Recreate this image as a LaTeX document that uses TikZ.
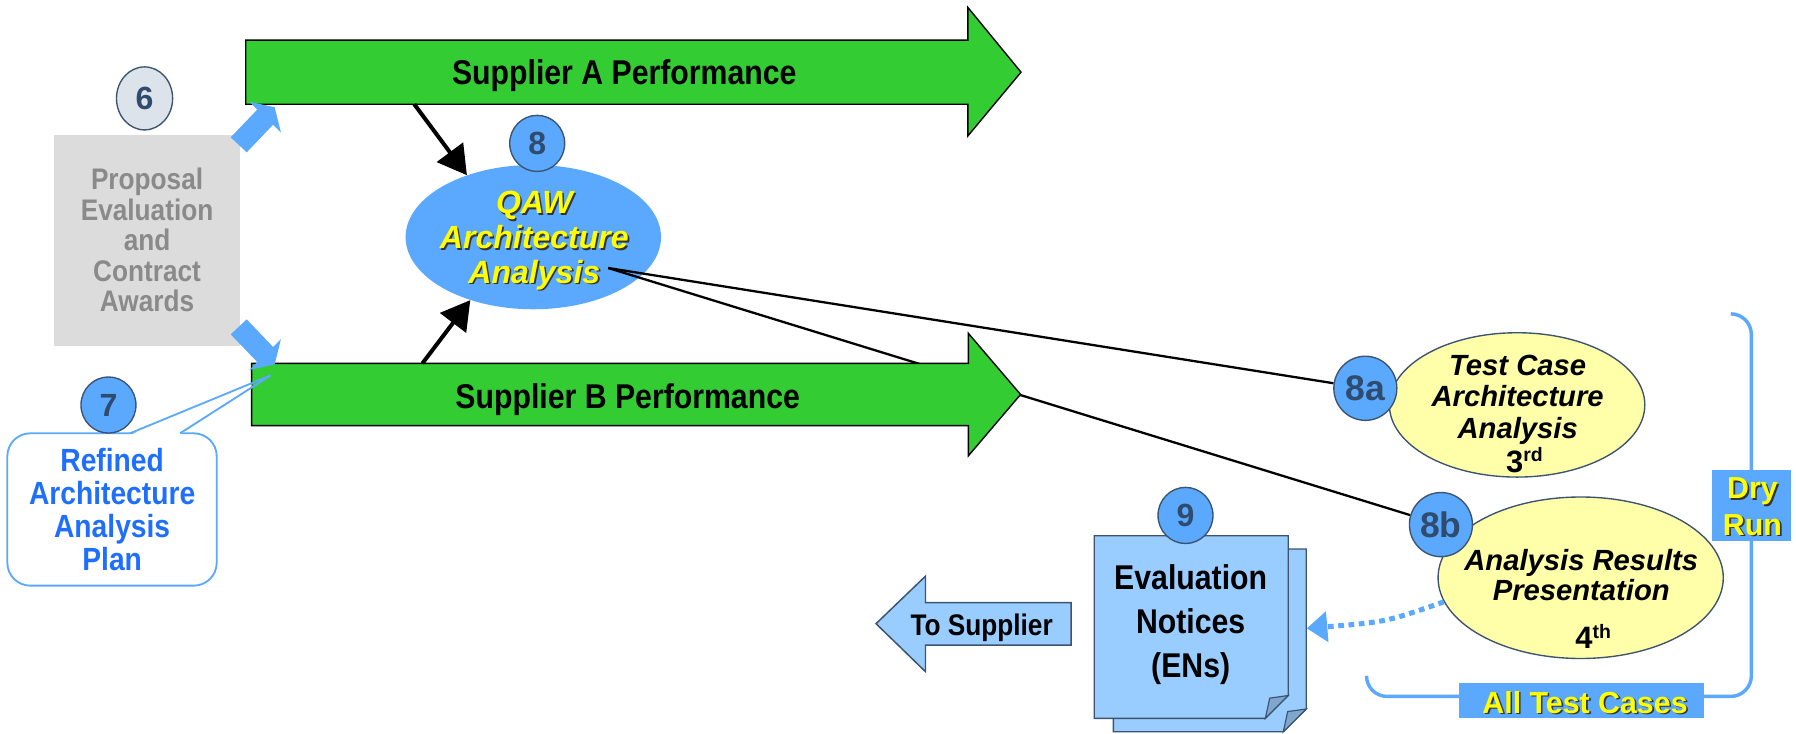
\documentclass[tikz,border=0pt]{standalone}
\usepackage{fontspec}
\setmainfont{Liberation Sans}
\newfontfamily\narrowfont{Liberation Sans}[FakeStretch=0.88]
\usetikzlibrary{arrows.meta,shapes.geometric}
\definecolor{grn}{HTML}{33CC33}
\definecolor{bl}{HTML}{5AA9FF}
\definecolor{lbl}{HTML}{99CCFF}
\definecolor{dk}{HTML}{3C5470}
\definecolor{numc}{HTML}{2F4B6E}
\definecolor{yel}{HTML}{FFFFAA}
\definecolor{gbox}{HTML}{DCDCDC}
\definecolor{gtxt}{HTML}{8A8A8A}
\definecolor{rblue}{HTML}{1F6FFF}
\definecolor{ytxt}{HTML}{FFFF00}
\definecolor{shd}{HTML}{333333}
\definecolor{foldc}{HTML}{7FA6CC}
\definecolor{csix}{HTML}{DDE3EA}
\newcommand\shl[1]{\makebox[0pt][l]{\hspace{1.4pt}\raisebox{-1.4pt}{\textcolor{shd}{#1}}}\textcolor{ytxt}{#1}}
\pgfdeclarelayer{bg}
\pgfdeclarelayer{mid}
\pgfsetlayers{bg,mid,main}
\tikzset{
  garrow/.style={fill=grn,draw=black,line width=1.2pt},
  bigtxt/.style={font={\narrowfont\bfseries\fontsize{30}{32}\selectfont},inner sep=0pt,anchor=base},
  numcirc/.style={ellipse,draw=dk,fill=bl,line width=1.2pt,inner sep=0pt,minimum width=48pt,minimum height=49pt,text=numc,font={\bfseries\fontsize{28}{28}\selectfont}},
  bignum/.style={numcirc,minimum width=55pt,minimum height=56pt,font={\bfseries\fontsize{31}{31}\selectfont}},
  blkarrow/.style={line width=3.5pt,-{Triangle[length=25pt,width=28pt]}},
  thinline/.style={line width=2pt},
  bluefill/.style={fill=bl},
  yell/.style={ellipse,fill=yel,draw=dk,line width=1.2pt,inner sep=0pt},
  itxt/.style={align=center,inner sep=0pt,font={\bfseries\itshape\fontsize{25.5}{27.5}\selectfont}},
  page/.style={fill=lbl,draw=dk,line width=1.2pt},
  foldst/.style={fill=foldc,draw=dk,line width=1pt},
  callst/.style={draw=bl,line width=1.6pt},
  bracket/.style={draw=bl,line width=3pt,rounded corners=18pt},
  ylabel/.style={align=center,inner sep=0pt,font={\bfseries\fontsize{26.5}{32}\selectfont}}
}
\begin{document}
\begin{tikzpicture}[x=1pt,y=-1pt]
\useasboundingbox (0,0) rectangle (1568,640);

% Proposal box
\fill[gbox] (47.4,117.9) rectangle (209.5,301.8);
\node[align=center,inner sep=0pt,text=gtxt,font={\narrowfont\bfseries\fontsize{26}{26.6}\selectfont}] (pe) at (128.4,209.5) {Proposal\\Evaluation\\and\\Contract\\Awards};

% Supplier arrows
\draw[garrow] (214.5,35) -- (845,35) -- (845,6.5) -- (891.4,63) -- (845,118.7) -- (845,91) -- (214.5,91) -- cycle;
\node[bigtxt] (supA) at (545,74.2) {Supplier A Performance};
\draw[garrow] (219.7,317.2) -- (845.4,317.2) -- (845.4,291) -- (891,344.4) -- (845.4,398) -- (845.4,371.6) -- (219.7,371.6) -- cycle;
\node[bigtxt] (supB) at (548,356.2) {Supplier B Performance};

% blue block arrows from proposal box
\fill[bluefill] (201.4,119.9) -- (224.6,95.7) -- (217.7,88.8) -- (239.8,93.6) -- (245.3,115.8) -- (238.4,108.9) -- (215.4,133) -- cycle;
\fill[bluefill] (201.4,291.9) -- (224.6,316.1) -- (217.7,323) -- (239.8,318.2) -- (245.3,296) -- (238.4,302.9) -- (215.4,278.8) -- cycle;

% callout
\draw[callst,fill=white,rounded corners=20pt] (6.4,378.3) rectangle (189.2,511.3);
\begin{scope}
\clip (0,300) rectangle (219.7,400);
\fill[white] (114,379.6) -- (236.3,327.7) -- (156.6,379.6) -- cycle;
\end{scope}
\draw[callst,line join=miter] (113.5,378.3) -- (236.3,327.7) -- (157.2,378.3);
\node[align=center,inner sep=0pt,text=rblue,font={\narrowfont\bfseries\fontsize{28}{29}\selectfont}] (rap) at (97.9,444.9) {Refined\\Architecture\\Analysis\\Plan};

\node[numcirc,fill=csix,minimum width=49pt,minimum height=55pt] (n6) at (126.2,85.9) {6};
\node[numcirc] (n7) at (94.7,353.6) {7};

% QAW
\begin{pgfonlayer}{bg}
\node[ellipse,fill=bl,inner sep=0pt,minimum width=223pt,minimum height=126pt] (qaw) at (465.6,207) {};
\end{pgfonlayer}
\node[align=center,inner sep=0pt,font={\bfseries\itshape\fontsize{28}{30.5}\selectfont}] (qawtxt) at (466.5,210.7) {\shl{QAW}\\\shl{Architecture}\\\shl{Analysis}};
\node[numcirc] (n8) at (469,125.2) {8};
\coordinate (qawout) at (531,234);
\coordinate (supAb) at (361.7,91);
\coordinate (supBt) at (368.8,317.2);
\draw[blkarrow] (supAb) -- (qaw.137);
\draw[blkarrow] (supBt) -- (qaw.225);

% test case ellipses
\node[yell,minimum width=223pt,minimum height=126pt] (tca) at (1324.5,353.5) {};
\node[itxt] (tcatxt) at (1325,361.1) {Test Case\\Architecture\\Analysis\\[2.3pt]{\upshape\hspace*{12pt}\fontsize{27}{29}\selectfont 3\raisebox{9pt}{\fontsize{17}{17}\selectfont rd}}};
\node[yell,minimum width=249pt,minimum height=141pt] (arp) at (1380,504.4) {};
\node[itxt,font={\bfseries\itshape\fontsize{25.5}{26.5}\selectfont}] (arptxt) at (1380.5,522.8) {Analysis Results\\Presentation\\[15pt]{\upshape\hspace*{21pt}\fontsize{27}{29}\selectfont 4\raisebox{9pt}{\fontsize{17}{17}\selectfont th}}};
\node[bignum] (n8a) at (1192,339) {8a};
\node[bignum] (n8b) at (1258,458) {8b};
\begin{pgfonlayer}{mid}
\draw[thinline] (qawout) -- (n8a);
\draw[thinline] (qawout) -- (n8b);
\end{pgfonlayer}

% Evaluation notices
\draw[page] (972,479.3) -- (1140.4,479.3) -- (1140.4,619) -- (1120.4,638.8) -- (972,638.8) -- cycle;
\draw[foldst] (1120.4,638.8) -- (1124.2,621.2) -- (1140.4,619) -- cycle;
\draw[page] (955.3,467.7) -- (1124.7,467.7) -- (1124.7,607.2) -- (1104.7,627.2) -- (955.3,627.2) -- cycle;
\draw[foldst] (1104.7,627.2) -- (1108.5,609.5) -- (1124.7,607.2) -- cycle;
\node[align=center,inner sep=0pt,font={\narrowfont\bfseries\fontsize{30}{38.5}\selectfont}] (en) at (1039.5,545) {Evaluation\\Notices\\(ENs)};
\node[numcirc] (n9) at (1035,450) {9};
\coordinate (enR) at (1140.8,548.6);

% To Supplier
\draw[page,line width=1.3pt] (764.8,544.5) -- (808,503) -- (808,526.2) -- (935.2,526.2) -- (935.2,563.2) -- (808,563.2) -- (808,586.4) -- cycle;
\node[anchor=base,inner sep=0pt,font={\narrowfont\bfseries\fontsize{26}{26}\selectfont}] (tosup) at (857,554.4) {To Supplier};

% dotted arrow
\draw[draw=bl,line width=4.4pt,dash pattern=on 5pt off 4pt,-{Triangle[length=18pt,width=26pt,fill=bl]}] (arp.190) .. controls (1210,543) .. (enR);

% bracket
\draw[bracket] (1193,590) -- (1193,608) -- (1529,608) -- (1529,274) -- (1511,274);
\fill[bl] (1495,410) rectangle (1563.6,472);
\node[ylabel] (dry) at (1530,442.9) {\shl{Dry}\\\shl{Run}};
\fill[bl] (1274,596) rectangle (1488,627);
\node[anchor=base,inner sep=0pt,font={\bfseries\fontsize{26.5}{26.5}\selectfont}] (atc) at (1383.8,622.8) {\shl{All Test Cases}};
\end{tikzpicture}
\end{document}
